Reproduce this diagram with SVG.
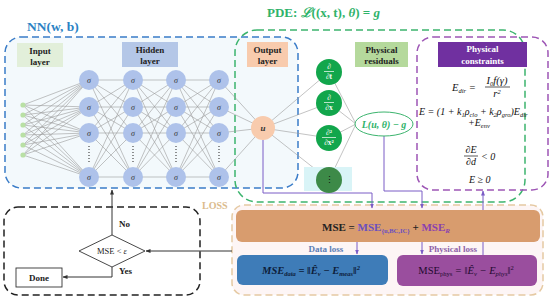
<svg xmlns="http://www.w3.org/2000/svg" width="550" height="300" viewBox="0 0 550 300">
<style>
text{font-family:"Liberation Serif","Times New Roman",serif;}
.lbl{font-size:9px;font-weight:bold;fill:#222;text-anchor:middle;}
.wl{font-size:9px;font-weight:bold;fill:#fff;text-anchor:middle;}
.m{font-size:10px;font-style:italic;fill:#111;}
.mc{font-size:10px;font-style:italic;fill:#111;text-anchor:middle;}
.s{font-size:6.5px;}
.hn{fill:#aec2ea;}
.sig{font-size:8px;font-style:italic;fill:#333;text-anchor:middle;}
.gn{fill:#12a64c;}
.dv{font-size:7.5px;font-weight:bold;fill:#fff;text-anchor:middle;}
.net{fill:none;stroke:#9a9a9a;stroke-width:0.6;}
.pl{fill:none;stroke:#7b5cc6;stroke-width:1;}
.bl{fill:none;stroke:#333;stroke-width:1;}
.dots{stroke:#555;stroke-width:1.3;stroke-dasharray:1 2;}
</style>
<defs>
<marker id="ap" viewBox="0 0 10 10" refX="9" refY="5" markerWidth="5" markerHeight="5" orient="auto"><path d="M0,1L10,5L0,9z" fill="#7b5cc6"/></marker>
<marker id="ak" viewBox="0 0 10 10" refX="9" refY="5" markerWidth="5" markerHeight="5" orient="auto"><path d="M0,1L10,5L0,9z" fill="#333"/></marker>
</defs>

<!-- regions -->
<g id="nn-box">
<rect x="5" y="37" width="293" height="151" rx="16" fill="#f3f9fc" stroke="#3a7cc8" stroke-width="1.5" stroke-dasharray="7 4"/>
<text x="27" y="31" style="font-size:13.5px;font-weight:bold;fill:#2b82c4">NN(w,  b)</text>
</g>
<g id="pde-box">
<rect x="235" y="30" width="290" height="172" rx="22" fill="none" stroke="#3cb46e" stroke-width="1.5" stroke-dasharray="7 4"/>
<text x="267" y="17" style="font-size:13px;font-weight:bold;fill:#2fb36a">PDE: <tspan font-style="italic">ℒ</tspan>((x,  t),  <tspan font-style="italic">θ</tspan>) = <tspan font-style="italic">g</tspan></text>
</g>
<g id="constraints-box">
<rect x="417" y="37" width="131" height="153" rx="16" fill="none" stroke="#9d55b5" stroke-width="1.5" stroke-dasharray="7 4"/>
</g>
<g id="control-box">
<rect x="4" y="207" width="196" height="88" rx="14" fill="none" stroke="#222" stroke-width="1.5" stroke-dasharray="7 4"/>
</g>
<g id="loss-box">
<rect x="232" y="205" width="311" height="90" rx="12" fill="#fdf5f5" stroke="#e5c9a2" stroke-width="1.5" stroke-dasharray="7 4"/>
<text x="202" y="209" style="font-size:10px;font-weight:bold;fill:#dbbb8c">LOSS</text>
</g>

<!-- layer labels -->
<g id="input-label"><rect x="17" y="43" width="46" height="24" fill="#e2efda"/><text class="lbl" x="40" y="54">Input</text><text class="lbl" x="40" y="65">layer</text></g>
<g id="hidden-label"><rect x="122" y="42" width="56" height="25" fill="#b4c7e7"/><text class="lbl" x="150" y="53">Hidden</text><text class="lbl" x="150" y="64">layer</text></g>
<g id="output-label"><rect x="247" y="42" width="41" height="25" fill="#f8cbad"/><text class="lbl" x="267.5" y="53">Output</text><text class="lbl" x="267.5" y="64">layer</text></g>
<g id="residuals-label"><rect x="355" y="42" width="53" height="25" fill="#b5d99c"/><text class="lbl" x="381.5" y="53">Physical</text><text class="lbl" x="381.5" y="64">residuals</text></g>
<g id="constraints-label"><rect x="438" y="42" width="89" height="25" fill="#7030a0"/><text class="wl" x="482.5" y="52">Physical</text><text class="wl" x="482.5" y="64">constraints</text></g>

<!-- connectors -->
<g id="connectors">
<path class="net" d="M23 105L89 80M23 105L89 107M23 105L89 133M23 105L89 177M23 115L89 80M23 115L89 107M23 115L89 133M23 115L89 177M23 125L89 80M23 125L89 107M23 125L89 133M23 125L89 177M23 135L89 80M23 135L89 107M23 135L89 133M23 135L89 177M23 145L89 80M23 145L89 107M23 145L89 133M23 145L89 177M23 155L89 80M23 155L89 107M23 155L89 133M23 155L89 177"/>
<path class="net" d="M89 80L133 80M89 80L133 107M89 80L133 133M89 80L133 177M89 107L133 80M89 107L133 107M89 107L133 133M89 107L133 177M89 133L133 80M89 133L133 107M89 133L133 133M89 133L133 177M89 177L133 80M89 177L133 107M89 177L133 133M89 177L133 177"/>
<path class="net" d="M133 80L176 80M133 80L176 107M133 80L176 133M133 80L176 177M133 107L176 80M133 107L176 107M133 107L176 133M133 107L176 177M133 133L176 80M133 133L176 107M133 133L176 133M133 133L176 177M133 177L176 80M133 177L176 107M133 177L176 133M133 177L176 177"/>
<path class="net" d="M176 80L219 80M176 80L219 107M176 80L219 133M176 80L219 177M176 107L219 80M176 107L219 107M176 107L219 133M176 107L219 177M176 133L219 80M176 133L219 107M176 133L219 133M176 133L219 177M176 177L219 80M176 177L219 107M176 177L219 133M176 177L219 177"/>
<path class="net" d="M219 80L263 128M219 107L263 128M219 133L263 128M219 177L263 128"/>
<path class="net" d="M263 128L329 72M263 128L329 103M263 128L329 138M263 128L329 180"/>
<path class="net" d="M329 72L356 124M329 103L356 124M329 138L356 124M329 180L356 124"/>
<path class="pl" d="M263 140V193H372V208" marker-end="url(#ap)"/>
<path class="pl" d="M384 136V191H422V208" marker-end="url(#ap)"/>
<path class="pl" d="M357 232V254" marker-end="url(#ap)"/>
<path class="pl" d="M422 232V254" marker-end="url(#ap)"/>
<path class="pl" d="M483 255V191" marker-end="url(#ap)"/>
<path class="bl" d="M232 251H146" marker-end="url(#ak)"/>
<path class="bl" d="M112 235V190" marker-end="url(#ak)"/>
<path class="bl" d="M112 267V277H63" marker-end="url(#ak)"/>
</g>

<!-- input nodes -->
<g id="input-nodes" fill="#b9e0a5">
<circle cx="23" cy="105" r="2.6"/><circle cx="23" cy="115" r="2.6"/><circle cx="23" cy="125" r="2.6"/><circle cx="23" cy="135" r="2.6"/><circle cx="23" cy="145" r="2.6"/><circle cx="23" cy="155" r="2.6"/>
</g>

<!-- hidden nodes -->
<g id="hidden-nodes">
<line class="dots" x1="89" y1="146" x2="89" y2="164"/><line class="dots" x1="133" y1="146" x2="133" y2="164"/><line class="dots" x1="176" y1="146" x2="176" y2="164"/><line class="dots" x1="219" y1="146" x2="219" y2="164"/>
<circle class="hn" cx="89" cy="80" r="10"/><circle class="hn" cx="89" cy="107" r="10"/><circle class="hn" cx="89" cy="133" r="10"/><circle class="hn" cx="89" cy="177" r="10"/>
<circle class="hn" cx="133" cy="80" r="10"/><circle class="hn" cx="133" cy="107" r="10"/><circle class="hn" cx="133" cy="133" r="10"/><circle class="hn" cx="133" cy="177" r="10"/>
<circle class="hn" cx="176" cy="80" r="10"/><circle class="hn" cx="176" cy="107" r="10"/><circle class="hn" cx="176" cy="133" r="10"/><circle class="hn" cx="176" cy="177" r="10"/>
<circle class="hn" cx="219" cy="80" r="10"/><circle class="hn" cx="219" cy="107" r="10"/><circle class="hn" cx="219" cy="133" r="10"/><circle class="hn" cx="219" cy="177" r="10"/>
<text class="sig" x="89" y="83">σ</text><text class="sig" x="89" y="110">σ</text><text class="sig" x="89" y="136">σ</text><text class="sig" x="89" y="180">σ</text>
<text class="sig" x="133" y="83">σ</text><text class="sig" x="133" y="110">σ</text><text class="sig" x="133" y="136">σ</text><text class="sig" x="133" y="180">σ</text>
<text class="sig" x="176" y="83">σ</text><text class="sig" x="176" y="110">σ</text><text class="sig" x="176" y="136">σ</text><text class="sig" x="176" y="180">σ</text>
<text class="sig" x="219" y="83">σ</text><text class="sig" x="219" y="110">σ</text><text class="sig" x="219" y="136">σ</text><text class="sig" x="219" y="180">σ</text>
</g>

<!-- output node -->
<g id="output-node"><circle cx="263" cy="128" r="12" fill="#f8cbad"/><text x="263" y="131" style="font-size:9px;font-style:italic;font-weight:bold;fill:#333;text-anchor:middle">u</text></g>

<!-- derivative nodes -->
<g id="d-dt"><circle class="gn" cx="329" cy="72" r="13"/><text class="dv" x="329" y="69">∂</text><line x1="324" y1="71.5" x2="334" y2="71.5" stroke="#fff" stroke-width="0.7"/><text class="dv" x="329" y="79">∂t</text></g>
<g id="d-dx"><circle class="gn" cx="329" cy="103" r="13"/><text class="dv" x="329" y="100">∂</text><line x1="324" y1="102.5" x2="334" y2="102.5" stroke="#fff" stroke-width="0.7"/><text class="dv" x="329" y="110">∂x</text></g>
<g id="d-dx2"><circle class="gn" cx="329" cy="138" r="13"/><text class="dv" x="329" y="135">∂²</text><line x1="322" y1="137.5" x2="336" y2="137.5" stroke="#fff" stroke-width="0.7"/><text class="dv" x="329" y="145">∂x²</text></g>
<g id="d-more"><rect x="304" y="167" width="48" height="24" fill="#d9f4f7"/><circle cx="329" cy="180" r="13" fill="#3d8a48"/><text x="329" y="183" style="font-size:9px;fill:#111;text-anchor:middle">⋮</text></g>

<!-- residual -->
<g id="residual"><ellipse cx="384" cy="124" rx="29" ry="12" fill="#fff" stroke="#3cb46e" stroke-width="1"/><text x="384" y="127.5" style="font-size:10px;font-weight:bold;font-style:italic;fill:#2fb36a;text-anchor:middle">L(u,  θ) − g</text></g>

<!-- constraints -->
<g id="constraints">
<text class="m" x="452" y="91" style="font-size:10.5px">E<tspan class="s" dy="2">dir</tspan><tspan dy="-2"> =</tspan></text>
<text class="mc" x="497" y="84" style="font-size:10.5px">I<tspan class="s" dy="2">0</tspan><tspan dy="-2">f(γ)</tspan></text>
<line x1="485" y1="87" x2="510" y2="87" stroke="#111" stroke-width="0.7"/>
<text class="mc" x="497" y="97" style="font-size:10.5px">r<tspan class="s" dy="-3">2</tspan></text>
<text class="m" x="419" y="115">E = (1 + k<tspan class="s" dy="2">1</tspan><tspan dy="-2">ρ</tspan><tspan class="s" dy="2">clo</tspan><tspan dy="-2"> + k</tspan><tspan class="s" dy="2">2</tspan><tspan dy="-2">ρ</tspan><tspan class="s" dy="2">gro</tspan><tspan dy="-2">)E</tspan><tspan class="s" dy="2">dir</tspan></text>
<text class="m" x="468" y="126">+E<tspan class="s" dy="2">env</tspan></text>
<text class="mc" x="471" y="153">∂E</text>
<line x1="464" y1="156" x2="478" y2="156" stroke="#111" stroke-width="0.7"/>
<text class="mc" x="471" y="165">∂d</text>
<text class="m" x="481" y="160">&lt; 0</text>
<text class="m" x="469" y="183">E ≥ 0</text>
</g>

<!-- loss -->
<g id="mse-total"><rect x="236" y="210" width="304" height="32" rx="6" fill="#d89c6e"/>
<text x="386" y="231" style="font-size:11px;font-weight:bold;fill:#222;text-anchor:middle">MSE = <tspan fill="#6a4fc0">MSE<tspan font-size="6.5px" dy="2">{u,BC,IC}</tspan></tspan><tspan dy="-2"> + </tspan><tspan fill="#8a3fb0">MSE<tspan font-size="7px" font-style="italic" dy="2">R</tspan></tspan></text>
</g>
<text x="326" y="252" style="font-size:9px;font-weight:bold;fill:#5b7db5;text-anchor:middle">Data loss</text>
<text x="453" y="252" style="font-size:9px;font-weight:bold;fill:#8e62a8;text-anchor:middle">Physical loss</text>
<g id="mse-data"><rect x="237" y="255" width="151" height="30" rx="6" fill="#3e7cb8"/>
<text x="311" y="274" style="font-size:10.5px;font-weight:bold;font-style:italic;fill:#0d1d3a;text-anchor:middle">MSE<tspan font-size="6.5px" dy="2">data</tspan><tspan dy="-2"> = ‖Ê</tspan><tspan font-size="6.5px" dy="2">v</tspan><tspan dy="-2"> − E</tspan><tspan font-size="6.5px" dy="2">meas</tspan><tspan dy="-2">‖</tspan><tspan font-size="6.5px" dy="-4">2</tspan></text>
</g>
<g id="mse-phys"><rect x="397" y="255" width="140" height="31" rx="6" fill="#9a4e9e"/>
<text x="466" y="274" style="font-size:10.5px;fill:#1e0a30;text-anchor:middle">MSE<tspan font-size="6.5px" dy="2">phys</tspan><tspan dy="-2" font-style="italic"> = ‖Ê</tspan><tspan font-size="6.5px" font-style="italic" dy="2">v</tspan><tspan dy="-2" font-style="italic"> − E</tspan><tspan font-size="6.5px" font-style="italic" dy="2">phys</tspan><tspan dy="-2">‖</tspan><tspan font-size="6.5px" dy="-4">2</tspan></text>
</g>

<!-- control flow -->
<g id="decision"><polygon points="79,251 112,235 145,251 112,267" fill="#fff" stroke="#333" stroke-width="0.9"/><text x="112" y="254" style="font-size:8.5px;fill:#222;text-anchor:middle">MSE &lt; <tspan font-style="italic">ε</tspan></text></g>
<g id="done"><rect x="16" y="268" width="46" height="19" fill="#fff" stroke="#333" stroke-width="0.9"/><text x="39" y="281" style="font-size:9px;font-weight:bold;fill:#222;text-anchor:middle">Done</text></g>
<text x="119" y="227" style="font-size:9px;font-weight:bold;fill:#222">No</text>
<text x="119" y="274" style="font-size:9px;font-weight:bold;fill:#222">Yes</text>
</svg>
